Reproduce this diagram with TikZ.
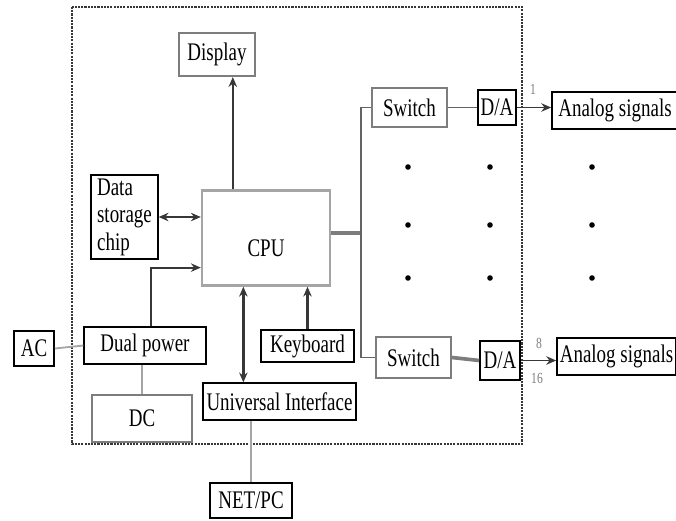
\documentclass[tikz,border=0pt]{standalone}
\usepackage{fontspec}
\setmainfont{Liberation Serif}[FakeStretch=0.75]
\usepackage{xcolor}
\definecolor{inkgray}{RGB}{55, 55, 55}
\definecolor{midgray}{RGB}{125, 125, 125}
\definecolor{lightgray}{RGB}{165, 165, 165}
\usepackage{tikz}
\usetikzlibrary{arrows.meta, calc}
\tikzset{
  blockbox/.style={draw=black, line width=0.9pt, fill=white,
    inner sep=1pt, align=center, font=\fontsize{18}{19.5}\selectfont},
  graybox/.style={draw=midgray, line width=1.5pt, fill=white,
    inner sep=1pt, align=center, font=\fontsize{18}{19.5}\selectfont},
  mainarrow/.style={-{Stealth[length=7pt,width=6pt]}, line width=1.5pt, color=inkgray},
  dblarrow/.style={{Stealth[length=7pt,width=6pt]}-{Stealth[length=7pt,width=6pt]},
    line width=1.7pt, color=inkgray},
  graylink/.style={line width=1.3pt, color=lightgray},
  buslink/.style={line width=1.3pt, color=midgray!80!black},
  thickbus/.style={line width=2.6pt, color=midgray},
  chanlabel/.style={font=\fontsize{11}{12}\selectfont, text=midgray, inner sep=0pt},
  framebox/.style={draw=inkgray, line width=1.2pt, dash pattern=on 1.5pt off 0.8pt}
}
\begin{document}
\begin{tikzpicture}[x=0.025cm, y=-0.025cm]
  \useasboundingbox (0,0) rectangle (676,520);

  % dashed housing
  \draw[framebox] (72,7) rectangle (522,444);

  % blocks inside the housing
  \node[graybox, minimum width=1.9cm, minimum height=1.075cm] (disp) at (217,54.5) {Display};
  \node[graybox, line width=1.7pt, draw=lightgray, minimum width=3.2cm, minimum height=2.375cm] (cpu) at (266,238) {\raisebox{-13pt}[0pt][0pt]{CPU}};
  \node[blockbox, minimum width=1.675cm, minimum height=2.1cm, align=left] (store) at (124.5,217) {Data\\storage\\chip};
  \node[blockbox, minimum width=3.05cm, minimum height=0.925cm] (dual) at (145,345.5) {Dual power};
  \node[graybox, minimum width=2.5cm, minimum height=1.175cm] (dc) at (142,418.5) {DC};
  \node[blockbox, minimum width=3.825cm, minimum height=0.925cm] (ui) at (279.5,401.5) {Universal Interface};
  \node[blockbox, minimum width=2.325cm, minimum height=0.8cm] (kbd) at (307.5,346) {Keyboard};

  % outside blocks
  \node[blockbox, line width=1.1pt, minimum width=1.0cm, minimum height=0.875cm] (ac) at (34,348.5) {AC};
  \node[blockbox, line width=1.1pt, minimum width=2.05cm, minimum height=0.875cm] (net) at (251,500.5) {NET/PC};

  % output channels
  \node[graybox, minimum width=1.875cm, minimum height=0.975cm] (swA) at (409.5,107.5) {Switch};
  \node[blockbox, line width=1.2pt, minimum width=0.95cm, minimum height=0.875cm] (daA) at (497,107.5) {D/A};
  \node[blockbox, line width=1.2pt, minimum width=3.15cm, minimum height=0.925cm] (anA) at (615,110.5) {Analog signals};
  \node[graybox, minimum width=1.875cm, minimum height=1.025cm] (swB) at (413.5,357.5) {Switch};
  \node[blockbox, line width=1.2pt, minimum width=1.0cm, minimum height=0.975cm] (daB) at (500,360.5) {D/A};
  \node[blockbox, line width=1.2pt, minimum width=2.975cm, minimum height=0.925cm] (anB) at (616.5,356.5) {Analog signals};

  % CPU links
  \draw[mainarrow] ([xshift=0.8cm]cpu.north west) -- ([xshift=0.8cm]cpu.north west |- disp.south);
  \draw[dblarrow] (store.east) -- (cpu.west |- store.east);
  \draw[mainarrow] ([xshift=0.15cm]dual.north) |- ([yshift=-0.74cm]cpu.west);
  \draw[dblarrow] ([xshift=1.025cm]ui.north west) -- ([xshift=1.025cm]ui.north west |- cpu.south);
  \draw[mainarrow] (kbd.north) -- (kbd.north |- cpu.south);

  % power and network
  \draw[graylink] (ac.east) -- (dual.west);
  \draw[graylink] (dc.north) -- (dc.north |- dual.south);
  \draw[graylink] (net.north) -- (net.north |- ui.south);

  % channel bus
  \coordinate (bus) at (361,233);
  \draw[thickbus] (bus -| cpu.east) -- (bus);
  \draw[buslink] (swA.west) -| (bus) |- (swB.west);
  \draw[buslink] (swA.east) -- (daA.west);
  \draw[thickbus] (swB.east) -- (daB.west);
  \draw[mainarrow, line width=1.2pt] (daA.east) -- (daA.east -| anA.west);
  \draw[mainarrow, line width=1.2pt] (daB.east) -- (daB.east -| anB.west);

  \node[chanlabel] (lblA) at (533,89) {1};
  \node[chanlabel] (lblB) at (539,343) {8};
  \node[chanlabel] (lblC) at (537,378) {16};

  % continuation dots
  \foreach \cx in {408,490,592}
    \foreach \cy in {167,225,278}
      \fill (\cx,\cy) circle (2.8);
\end{tikzpicture}
\end{document}
